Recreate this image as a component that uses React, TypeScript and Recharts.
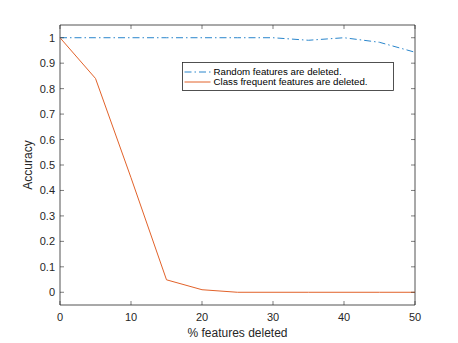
import React from 'react';
import {
  LineChart,
  Line,
  XAxis,
  YAxis,
  ReferenceArea,
  Legend,
} from 'recharts';

const featuresDeleted = [0, 5, 10, 15, 20, 25, 30, 35, 40, 45, 50];
const randomAcc = [1, 1, 1, 1, 1, 1, 1, 0.99, 1, 0.982, 0.943];
const classAcc = [1, 0.84, 0.45, 0.049, 0.01, 0, 0, 0, 0, 0, 0];
const seriesNames = ['Random features are deleted.', 'Class frequent features are deleted.'];
const xTicks = [0, 10, 20, 30, 40, 50];
const yTicks = [0, 0.1, 0.2, 0.3, 0.4, 0.5, 0.6, 0.7, 0.8, 0.9, 1];

const chartData = featuresDeleted.map((x, i) => ({
  x,
  random: randomAcc[i],
  classFreq: classAcc[i],
}));

const FONT = "'Liberation Sans', Arial, Helvetica, sans-serif";
const AXIS = '#262626';
const PLOT_W = 355;
const PLOT_H = 280;
const TICK_LEN = 4;

const XTick = (props: any) => {
  const { x, y, payload } = props;
  return (
    <g>
      <line x1={x} x2={x} y1={y} y2={y - TICK_LEN} stroke={AXIS} strokeWidth={0.6} />
      <line x1={x} x2={x} y1={y - PLOT_H} y2={y - PLOT_H + TICK_LEN} stroke={AXIS} strokeWidth={0.6} />
      <text x={x} y={y + 16} textAnchor="middle" fontSize={11} fontFamily={FONT} fill={AXIS}>
        {payload.value}
      </text>
    </g>
  );
};

const YTick = (props: any) => {
  const { x, y, payload } = props;
  return (
    <g>
      <line x1={x} x2={x + TICK_LEN} y1={y} y2={y} stroke={AXIS} strokeWidth={0.6} />
      <line x1={x + PLOT_W} x2={x + PLOT_W - TICK_LEN} y1={y} y2={y} stroke={AXIS} strokeWidth={0.6} />
      <text x={x - 5} y={y} dy="0.36em" textAnchor="end" fontSize={11} fontFamily={FONT} fill={AXIS}>
        {payload.value}
      </text>
    </g>
  );
};

const renderLegend = (props: any) => {
  const payload = [...(props.payload || [])].sort(
    (a: any, b: any) => seriesNames.indexOf(a.value) - seriesNames.indexOf(b.value)
  );
  return (
    <svg width={212} height={29} style={{ display: 'block' }}>
      <rect x={0.5} y={0.5} width={211} height={28} fill="#fff" stroke={AXIS} strokeWidth={0.8} />
      {payload.map((entry: any, i: number) => {
        const cy = 10 + i * 10;
        return (
          <g key={entry.value}>
            <line
              x1={2.5}
              x2={28.5}
              y1={cy}
              y2={cy}
              stroke={entry.color}
              strokeWidth={1}
              strokeDasharray={entry.payload?.strokeDasharray}
            />
            <text x={31.5} y={cy} dy="0.35em" fontSize={9.7} fontFamily={FONT} fill="#000">
              {entry.value}
            </text>
          </g>
        );
      })}
    </svg>
  );
};

export default function App() {
  return (
    <div style={{ position: 'absolute', left: 0, top: 0, width: 458, height: 343, background: '#fff' }}>
      <LineChart width={458} height={343} data={chartData} margin={{ top: 25, right: 43, bottom: 0, left: 0 }}>
        <XAxis
          dataKey="x"
          type="number"
          domain={[0, 50]}
          ticks={xTicks}
          tickSize={0}
          tickMargin={0}
          tickLine={false}
          axisLine={false}
          height={38}
          tick={XTick}
          label={{ value: '% features deleted', position: 'insideBottom', offset: 6, fontSize: 12, fontFamily: FONT, fill: AXIS }}
        />
        <YAxis
          type="number"
          domain={[-0.05, 1.05]}
          ticks={yTicks}
          allowDataOverflow
          tickSize={0}
          tickMargin={0}
          tickLine={false}
          axisLine={false}
          width={60}
          tick={YTick}
          label={{ value: 'Accuracy', angle: -90, position: 'insideLeft', offset: 28, fontSize: 12, fontFamily: FONT, fill: AXIS, style: { textAnchor: 'middle' } }}
        />
        <ReferenceArea x1={0} x2={50} y1={-0.05} y2={1.05} fill="none" fillOpacity={0} stroke={AXIS} strokeWidth={0.8} strokeOpacity={1} />
        <Legend
          layout="vertical"
          align="center"
          verticalAlign="middle"
          content={renderLegend}
          wrapperStyle={{ position: 'absolute', left: 182, top: 62, width: 212, height: 29 }}
        />
        <Line
          dataKey="random"
          name={seriesNames[0]}
          stroke="#2a86cc"
          strokeWidth={1}
          strokeDasharray="7 3 1.5 3"
          dot={false}
          isAnimationActive={false}
        />
        <Line
          dataKey="classFreq"
          name={seriesNames[1]}
          stroke="#e2622a"
          strokeWidth={1}
          dot={false}
          isAnimationActive={false}
        />
      </LineChart>
    </div>
  );
}
